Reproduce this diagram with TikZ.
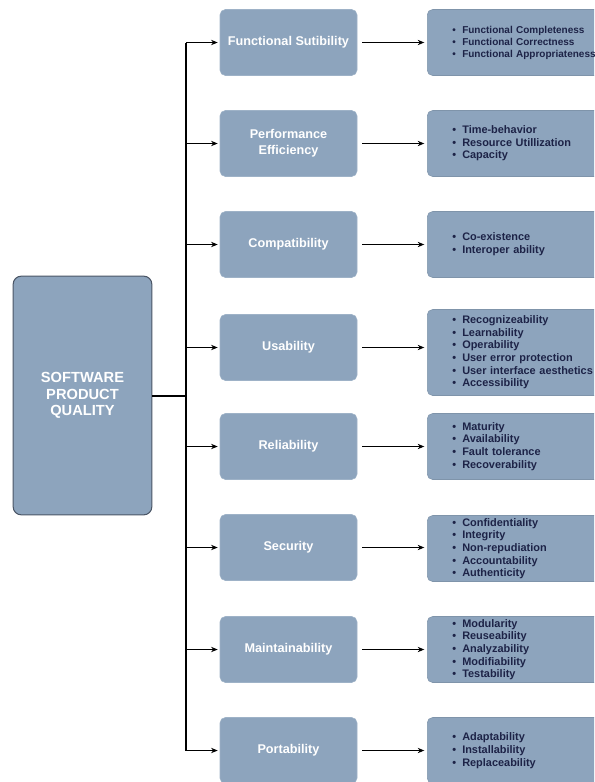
\documentclass[tikz,border=0pt]{standalone}
\usepackage{fontspec}
\setmainfont{Liberation Sans}
\usetikzlibrary{arrows.meta}
\definecolor{boxblue}{HTML}{8DA4BD}
\definecolor{boxline}{HTML}{4B5666}
\definecolor{itemtext}{HTML}{1D2347}
\newcommand{\itm}[1]{\makebox[7.5pt][l]{\textbullet}#1}

\begin{document}
\begin{tikzpicture}[x=0.75pt,y=-0.75pt]
	 \tikzstyle{quality}=[rectangle,rounded corners=6pt,fill=boxblue,draw=boxline,line width=0.8pt,minimum width=104pt,minimum height=179pt,text=white,font=\bfseries\fontsize{11}{12.4}\selectfont,align=center]
	 \tikzstyle{factor}=[rectangle,rounded corners=4pt,fill=boxblue,draw=boxblue!85!white,minimum width=102.75pt,minimum height=49.5pt,text=white,font=\bfseries\fontsize{9.5}{12}\selectfont,align=center]
	 \tikzstyle{subfactors}=[rectangle,rounded corners=4pt,fill=boxblue,draw=boxblue!90!black,anchor=west,minimum height=49.5pt,inner xsep=18.75pt,inner ysep=1pt,text width=200pt,align=left,text=itemtext,font=\bfseries\fontsize{8.2}{9.5}\selectfont]
	 \tikzstyle{edge}=[draw,line width=0.8pt,black]
	 \tikzstyle{branch}=[edge,-{Stealth[length=5pt,width=4pt]}]
	 \useasboundingbox (0,0) rectangle (594,782);
	 \clip (0,0) rectangle (594,782);
	 \node[quality] (spq) at (82.5,395.5) {SOFTWARE\\PRODUCT\\QUALITY};
	 \coordinate (hub) at (186,396);
	 \node[factor] (f1) at (288.5,42.5) {Functional Sutibility};
	 \node[factor] (f2) at (288.5,143.5) {Performance\\Efficiency};
	 \node[factor] (f3) at (288.5,244.5) {Compatibility};
	 \node[factor] (f4) at (288.5,347.5) {Usability};
	 \node[factor] (f5) at (288.5,446.5) {Reliability};
	 \node[factor] (f6) at (288.5,547.5) {Security};
	 \node[factor] (f7) at (288.5,649.5) {Maintainability};
	 \node[factor] (f8) at (288.5,750.5) {Portability};
	 \node[subfactors,font=\bfseries\fontsize{7.5}{9}\selectfont] (s1) at (427,42.5) {\itm{Functional Completeness}\\\itm{Functional Correctness}\\\itm{Functional Appropriateness}};
	 \node[subfactors] (s2) at (427,143.5) {\itm{Time-behavior}\\\itm{Resource Utillization}\\\itm{Capacity}};
	 \node[subfactors] (s3) at (427,244.5) {\itm{Co-existence}\\\itm{Interoper ability}};
	 \node[subfactors,minimum height=64.5pt] (s4) at (427,352.5) {\itm{Recognizeability}\\\itm{Learnability}\\\itm{Operability}\\\itm{User error protection}\\\itm{User interface aesthetics}\\\itm{Accessibility}};
	 \node[subfactors] (s5) at (427,446.5) {\itm{Maturity}\\\itm{Availability}\\\itm{Fault tolerance}\\\itm{Recoverability}};
	 \node[subfactors] (s6) at (427,548.5) {\itm{Confidentiality}\\\itm{Integrity}\\\itm{Non-repudiation}\\\itm{Accountability}\\\itm{Authenticity}};
	 \node[subfactors] (s7) at (427,649.5) {\itm{Modularity}\\\itm{Reuseability}\\\itm{Analyzability}\\\itm{Modifiability}\\\itm{Testability}};
	 \node[subfactors] (s8) at (427,750.5) {\itm{Adaptability}\\\itm{Installability}\\\itm{Replaceability}};
	 \draw[edge,line width=1.5pt] (spq.east |- hub) -- (hub);
	 \draw[edge] (f1.west -| hub) -- (f8.west -| hub);
	 \draw[branch,shorten >=1.5pt] (f1.west -| hub) -- (f1.west);
	 \draw[branch,shorten >=1.5pt] (f2.west -| hub) -- (f2.west);
	 \draw[branch,shorten >=1.5pt] (f3.west -| hub) -- (f3.west);
	 \draw[branch,shorten >=1.5pt] (f4.west -| hub) -- (f4.west);
	 \draw[branch,shorten >=1.5pt] (f5.west -| hub) -- (f5.west);
	 \draw[branch,shorten >=1.5pt] (f6.west -| hub) -- (f6.west);
	 \draw[branch,shorten >=1.5pt] (f7.west -| hub) -- (f7.west);
	 \draw[branch,shorten >=1.5pt] (f8.west -| hub) -- (f8.west);
	 \draw[branch,shorten <=3.75pt,shorten >=2pt] (f1.east) -- (f1.east -| s1.west);
	 \draw[branch,shorten <=3.75pt,shorten >=2pt] (f2.east) -- (f2.east -| s2.west);
	 \draw[branch,shorten <=3.75pt,shorten >=2pt] (f3.east) -- (f3.east -| s3.west);
	 \draw[branch,shorten <=3.75pt,shorten >=2pt] (f4.east) -- (f4.east -| s4.west);
	 \draw[branch,shorten <=3.75pt,shorten >=2pt] (f5.east) -- (f5.east -| s5.west);
	 \draw[branch,shorten <=3.75pt,shorten >=2pt] (f6.east) -- (f6.east -| s6.west);
	 \draw[branch,shorten <=3.75pt,shorten >=2pt] (f7.east) -- (f7.east -| s7.west);
	 \draw[branch,shorten <=3.75pt,shorten >=2pt] (f8.east) -- (f8.east -| s8.west);
\end{tikzpicture}
\end{document}
